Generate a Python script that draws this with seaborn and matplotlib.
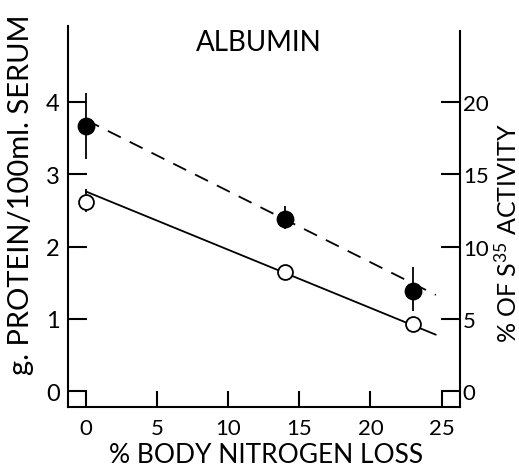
import matplotlib
matplotlib.use("Agg")
import matplotlib.pyplot as plt
from matplotlib import font_manager
import seaborn as sns
import pandas as pd

# ---- data ----
loss = [0, 14, 23]
filled_y = [3.67, 2.38, 1.38]
filled_lo = [3.21, 2.24, 1.11]
filled_hi = [4.12, 2.56, 1.72]
open_y = [2.62, 1.65, 0.93]
open_lo = [2.48, 1.65, 0.93]
open_hi = [2.80, 1.65, 0.93]
fit_x = [0, 24.6]
fit_filled = [3.75, 1.33]
fit_open = [2.76, 0.78]
xticks = [0, 5, 10, 15, 20, 25]
yticks_left = [0, 1, 2, 3, 4]
yticks_right = [0, 5, 10, 15, 20]

sns.set_theme(style="white")
names = {f.name for f in font_manager.fontManager.ttflist}
fam = "Lato" if "Lato" in names else "DejaVu Sans"
plt.rcParams["font.family"] = [fam, "DejaVu Sans"]
plt.rcParams["mathtext.fontset"] = "custom"
plt.rcParams["mathtext.rm"] = fam
plt.rcParams["mathtext.it"] = fam
for k in ["text.color", "axes.labelcolor", "xtick.color", "ytick.color"]:
    plt.rcParams[k] = "black"

fig = plt.figure(figsize=(5.19, 4.77), dpi=100)
ax = fig.add_axes([68/519, 1-408/477, (460-68)/519, (408-27)/477])

XMIN, XMAX = -1.27, 26.3
YMIN, YMAX = -0.22, 5.05

df_f = pd.DataFrame({"x": loss, "y": filled_y})
df_o = pd.DataFrame({"x": loss, "y": open_y})
df_lf = pd.DataFrame({"x": fit_x, "y": fit_filled})
df_lo = pd.DataFrame({"x": fit_x, "y": fit_open})

sns.lineplot(data=df_lf, x="x", y="y", ax=ax, color="black", lw=1.3,
             linestyle=(0, (8, 5.5)))
sns.lineplot(data=df_lo, x="x", y="y", ax=ax, color="black", lw=1.3)
ax.vlines(loss, filled_lo, filled_hi, color="black", lw=1.3, zorder=3)
ax.vlines(loss, open_lo, open_hi, color="black", lw=1.3, zorder=3)
sns.scatterplot(data=df_f, x="x", y="y", ax=ax, s=140, color="black",
                edgecolor="black", linewidth=1, zorder=4)
sns.scatterplot(data=df_o, x="x", y="y", ax=ax, s=115, color="white",
                edgecolor="black", linewidth=1.3, zorder=4)

ax.set_xlim(XMIN, XMAX)
ax.set_ylim(YMIN, YMAX)
ax.set_xticks(xticks)
ax.set_xticklabels([str(t) for t in xticks])
ax.set_yticks(yticks_left)
ax.set_yticklabels([str(t) for t in yticks_left])
ax.tick_params(axis="x", direction="in", length=11.5, width=1.5, pad=8,
               labelsize=16, bottom=True)
ax.tick_params(axis="y", direction="in", length=13.5, width=1.5, pad=6,
               labelsize=17, left=True)
for s in ["top", "right"]:
    ax.spines[s].set_visible(False)
for s in ["left", "bottom"]:
    ax.spines[s].set_linewidth(1.5)
    ax.spines[s].set_color("black")
ax.set_xlabel("% BODY NITROGEN LOSS", fontsize=19)
ax.xaxis.label.set_va("center")
ax.xaxis.set_label_coords(0.505, -0.125)
ax.set_ylabel("g. PROTEIN/100ml. SERUM", fontsize=21)
ax.yaxis.label.set_va("center")
ax.yaxis.set_label_coords(-0.12, 0.559)
ax.text(0.487, 0.958, "ALBUMIN", transform=ax.transAxes, ha="center",
        va="center", fontsize=20)

ax2 = ax.twinx()
ax2.set_ylim(YMIN*5, YMAX*5)
ax2.set_yticks(yticks_right)
ax2.set_yticklabels([str(t) for t in yticks_right])
ax2.tick_params(axis="y", direction="in", length=13.5, width=1.5, pad=2,
                labelsize=16, right=True)
for s in ["top", "left", "bottom"]:
    ax2.spines[s].set_visible(False)
ax2.spines["right"].set_linewidth(1.5)
ax2.spines["right"].set_color("black")
ax2.spines["right"].set_bounds(YMIN*5, 4.98*5)
ax2.set_ylabel(r"% OF S$^{35}$ ACTIVITY", fontsize=18)
ax2.yaxis.label.set_va("center")
ax2.yaxis.set_label_coords(1.12, 0.459)

fig.savefig("out.png", dpi=100)
